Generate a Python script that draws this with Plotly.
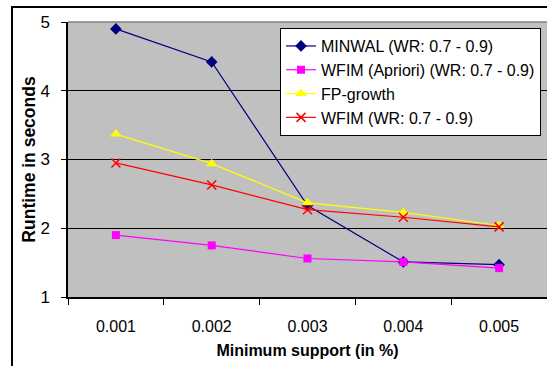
import plotly.graph_objects as go

categories = ["0.001", "0.002", "0.003", "0.004", "0.005"]
minwal = [4.90, 4.42, 2.33, 1.51, 1.47]
wfim_apriori = [1.90, 1.75, 1.56, 1.51, 1.42]
fp_growth = [3.37, 2.94, 2.37, 2.23, 2.04]
wfim = [2.95, 2.63, 2.27, 2.16, 2.02]

series = [
    ("MINWAL (WR: 0.7 - 0.9)", minwal, "#000080", "diamond", 9, None),
    ("WFIM (Apriori) (WR: 0.7 - 0.9)", wfim_apriori, "#FF00FF", "square", 8, None),
    ("FP-growth", fp_growth, "#FFFF00", "triangle-up", 10, None),
    ("WFIM (WR: 0.7 - 0.9)", wfim, "#FF0000", "x-thin-open", 9, 1.5),
]

fig = go.Figure()
for name, vals, color, sym, size, lw in series:
    marker = dict(symbol=sym, size=size, color=color)
    if lw:
        marker["line"] = dict(color=color, width=lw)
    fig.add_trace(go.Scatter(
        x=categories, y=vals, name=name, mode="lines+markers",
        line=dict(color=color, width=1.2), marker=marker,
    ))

font_family = "Liberation Sans, Arial, sans-serif"
fig.update_layout(
    width=547, height=366,
    margin=dict(l=68, r=0, t=22, b=69),
    paper_bgcolor="white",
    plot_bgcolor="#C0C0C0",
    font=dict(family=font_family, size=16, color="black"),
    showlegend=True,
    legend=dict(
        x=0.4426, y=0.978, xanchor="left", yanchor="top",
        bgcolor="white", bordercolor="black", borderwidth=1,
        font=dict(size=16, family=font_family), itemwidth=30,
        tracegroupgap=0,
    ),
    xaxis=dict(
        type="category", tickson="boundaries", ticks="outside", ticklen=6,
        tickcolor="black", showline=True, linecolor="black", linewidth=1.5,
        showgrid=False, ticklabelstandoff=14,
        title=dict(text="<b>Minimum support (in %)</b>", font=dict(size=16), standoff=11),
        range=[-0.5, 4.5],
    ),
    yaxis=dict(
        range=[1, 5], dtick=1, ticks="outside", ticklen=5, tickcolor="black",
        showline=True, linecolor="black", linewidth=1.5,
        showgrid=True, gridcolor="black", gridwidth=1, zeroline=False,
        ticklabelstandoff=8, tickfont=dict(size=17),
        title=dict(text="<b>Runtime in seconds</b>", font=dict(size=17.5), standoff=0),
    ),
    shapes=[
        dict(type="rect", xref="paper", yref="paper", x0=-0.1169, x1=1.2,
             y0=-0.6, y1=1.0545, line=dict(color="black", width=2), layer="below"),
        dict(type="line", xref="paper", yref="paper", x0=0, x1=1, y0=1, y1=1,
             line=dict(color="#808080", width=1.5), layer="above"),
    ],
)

fig.write_html("out.html")
